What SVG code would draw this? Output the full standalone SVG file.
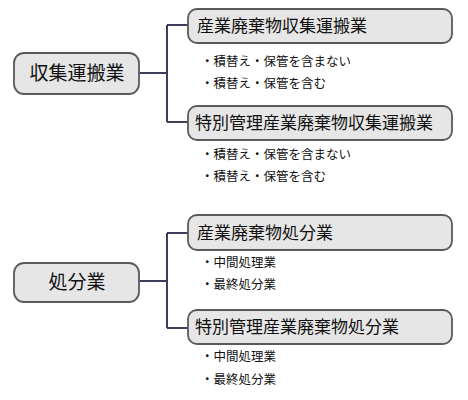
<svg xmlns="http://www.w3.org/2000/svg" width="468" height="400" viewBox="0 0 468 400">
<style>
.box{fill:#e6e6e6;stroke:#5a5a5a;stroke-width:1.8}
.t{font-family:"Noto Sans CJK JP","Noto Sans CJK SC",sans-serif;fill:#111}
.big{font-size:19px}
.mid{font-size:17px}
.sm{font-size:12.5px}
.conn{fill:none;stroke:#3d3d5c;stroke-width:2}
</style>
<rect width="468" height="400" fill="#fff"/>
<g id="connectors">
<path class="conn" d="M139 73H167M167 25V122M167 25H188M167 122H188"/>
<path class="conn" d="M139 281H167M167 233V328M167 233H188M167 328H188"/>
</g>
<g id="n1"><rect class="box" x="14" y="53" width="125" height="41" rx="10"/><text class="t big" x="77" y="80" text-anchor="middle">収集運搬業</text></g>
<g id="n2"><rect class="box" x="188" y="9" width="264" height="34" rx="9"/><text class="t mid" x="197" y="32">産業廃棄物収集運搬業</text></g>
<g id="n2s"><text class="t sm" x="201" y="66">・積替え・保管を含まない</text><text class="t sm" x="201" y="88">・積替え・保管を含む</text></g>
<g id="n3"><rect class="box" x="188" y="106" width="264" height="34" rx="9"/><text class="t mid" x="195" y="129">特別管理産業廃棄物収集運搬業</text></g>
<g id="n3s"><text class="t sm" x="201" y="159">・積替え・保管を含まない</text><text class="t sm" x="201" y="181">・積替え・保管を含む</text></g>
<g id="n4"><rect class="box" x="14" y="263" width="125" height="39" rx="10"/><text class="t big" x="77" y="289" text-anchor="middle">処分業</text></g>
<g id="n5"><rect class="box" x="188" y="215" width="264" height="35" rx="9"/><text class="t mid" x="197" y="239">産業廃棄物処分業</text></g>
<g id="n5s"><text class="t sm" x="201" y="267">・中間処理業</text><text class="t sm" x="201" y="289">・最終処分業</text></g>
<g id="n6"><rect class="box" x="188" y="310" width="264" height="34" rx="9"/><text class="t mid" x="195" y="333">特別管理産業廃棄物処分業</text></g>
<g id="n6s"><text class="t sm" x="201" y="361">・中間処理業</text><text class="t sm" x="201" y="384">・最終処分業</text></g>
</svg>
